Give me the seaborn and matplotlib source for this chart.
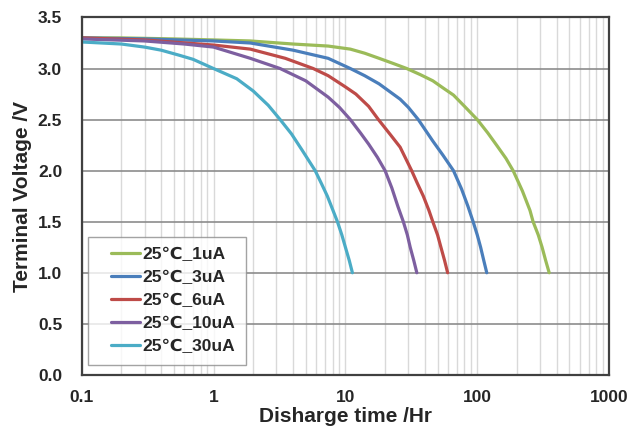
#!/usr/bin/env python3
"""
Discharge curves at 25C for several load currents (log time axis).

Writes:
  out.png
"""

import pandas as pd
import seaborn as sns
import matplotlib.pyplot as plt
from matplotlib.lines import Line2D
from matplotlib.legend_handler import HandlerLine2D
from matplotlib.ticker import FixedLocator, LogLocator, NullFormatter


# values
SERIES = ["25℃_1uA", "25℃_3uA", "25℃_6uA", "25℃_10uA", "25℃_30uA"]
COLORS = ["#9bbb59", "#4a7ebb", "#be4b48", "#7d5fa0", "#4bacc6"]

t_1ua = [0.1, 0.2, 0.5, 1.0, 1.9, 4, 7.4, 10.9, 14, 18, 23, 29.2, 37, 46, 55, 66, 80,
         100, 120, 140, 165, 187, 220, 251, 265, 290, 310, 330, 351]
v_1ua = [3.30, 3.30, 3.29, 3.28, 3.27, 3.24, 3.22, 3.19, 3.15, 3.10, 3.05, 3.00, 2.94,
         2.88, 2.81, 2.74, 2.63, 2.50, 2.37, 2.25, 2.12, 2.00, 1.80, 1.61, 1.50, 1.37,
         1.25, 1.12, 1.00]

t_3ua = [0.1, 0.3, 1.0, 1.9, 4, 7.4, 10.9, 14, 18, 26, 30, 35.7, 46, 55, 66, 76, 85,
         93, 100, 106, 112, 118]
v_3ua = [3.30, 3.29, 3.27, 3.25, 3.18, 3.10, 3.00, 2.93, 2.85, 2.70, 2.62, 2.50, 2.29,
         2.15, 2.00, 1.82, 1.65, 1.50, 1.37, 1.25, 1.12, 1.00]

t_6ua = [0.1, 0.3, 1.0, 1.9, 3.5, 5.7, 7.4, 10, 12, 15, 17.8, 22, 26, 31.8, 35, 39, 43,
         46, 50, 53, 56.5, 59.6]
v_6ua = [3.30, 3.28, 3.23, 3.19, 3.10, 3.00, 2.93, 2.82, 2.75, 2.63, 2.50, 2.35, 2.23,
         2.00, 1.88, 1.75, 1.61, 1.50, 1.37, 1.25, 1.12, 1.00]

t_10ua = [0.1, 0.3, 0.6, 1.0, 1.9, 3.2, 5, 7.4, 9, 10.9, 13, 15, 17.5, 20, 22.5, 25,
          27.5, 29.5, 31, 33, 34.8]
v_10ua = [3.29, 3.27, 3.24, 3.21, 3.10, 3.00, 2.88, 2.72, 2.62, 2.50, 2.37, 2.26, 2.13,
          2.00, 1.83, 1.65, 1.50, 1.37, 1.25, 1.12, 1.00]

t_30ua = [0.1, 0.2, 0.3, 0.4, 0.55, 0.7, 1.0, 1.5, 2.0, 2.6, 3.2, 3.9, 4.7, 5.9, 6.6,
          7.3, 8.0, 8.7, 9.4, 10.0, 10.7, 11.3]
v_30ua = [3.26, 3.24, 3.21, 3.18, 3.13, 3.09, 3.00, 2.90, 2.78, 2.64, 2.50, 2.36, 2.20,
          2.00, 1.87, 1.75, 1.62, 1.50, 1.37, 1.25, 1.12, 1.00]

Y_TICKS = [0.0, 0.5, 1.0, 1.5, 2.0, 2.5, 3.0, 3.5]
X_TICKS = [0.1, 1, 10, 100, 1000]
X_LABELS = ["0.1", "1", "10", "100", "1000"]


def build_frame():
    parts = []
    for name, t, v in zip(
        SERIES,
        [t_1ua, t_3ua, t_6ua, t_10ua, t_30ua],
        [v_1ua, v_3ua, v_6ua, v_10ua, v_30ua],
    ):
        parts.append(pd.DataFrame({"time": t, "voltage": v, "series": name}))
    return pd.concat(parts, ignore_index=True)


def main():
    sns.set_theme(style="white")
    plt.rcParams["font.family"] = ["Liberation Sans", "DejaVu Sans"]
    plt.rcParams["font.weight"] = "bold"

    df = build_frame()

    fig = plt.figure(figsize=(6.28, 4.26), dpi=100)
    ax = fig.add_axes([0.1300, 0.120, 0.8400, 0.839])

    sns.lineplot(
        data=df,
        x="time",
        y="voltage",
        hue="series",
        hue_order=SERIES,
        palette=COLORS,
        estimator=None,
        sort=False,
        linewidth=2.3,
        ax=ax,
    )

    ax.set_xscale("log")
    ax.set_xlim(0.1, 1000)
    ax.set_ylim(0, 3.5)

    ax.xaxis.set_major_locator(FixedLocator(X_TICKS))
    ax.set_xticklabels(X_LABELS)
    ax.xaxis.set_minor_locator(LogLocator(base=10, subs=range(2, 10)))
    ax.xaxis.set_minor_formatter(NullFormatter())
    ax.set_yticks(Y_TICKS)
    ax.set_yticklabels([f"{v:.1f}" for v in Y_TICKS])

    # Excel-style grid: light vertical minor lines, darker horizontal majors
    ax.grid(True, which="minor", axis="x", color="#d9d9d9", linewidth=1.0)
    ax.grid(True, which="major", axis="x", color="#d9d9d9", linewidth=1.0)
    ax.grid(True, which="major", axis="y", color="#8c8c8c", linewidth=1.2)
    ax.set_axisbelow(True)

    for spine in ax.spines.values():
        spine.set_color("#404040")
        spine.set_linewidth(1.6)

    ax.tick_params(axis="both", which="major", labelsize=12.5, direction="in",
                   length=4, color="#404040")
    ax.tick_params(axis="x", which="major", pad=11)
    ax.tick_params(axis="y", which="major", pad=14)
    ax.tick_params(axis="x", which="minor", length=0)
    for lab in ax.get_xticklabels() + ax.get_yticklabels():
        lab.set_fontweight("bold")

    ax.set_xlabel("Disharge time /Hr", fontsize=15, fontweight="bold", labelpad=1.5)
    ax.set_ylabel("Terminal Voltage /V", fontsize=15, fontweight="bold", labelpad=4)

    leg = ax.legend(
        loc="lower left",
        bbox_to_anchor=(0.012, 0.029),
        borderaxespad=0,
        fontsize=12.5,
        frameon=True,
        fancybox=False,
        edgecolor="#8c8c8c",
        handlelength=2.4,
        handletextpad=0.15,
        labelspacing=0.45,
        borderpad=0.6,
        handler_map={Line2D: HandlerLine2D(xpad=0.7)},
    )
    leg.get_frame().set_linewidth(1.0)
    for txt in leg.get_texts():
        txt.set_fontweight("bold")

    fig.savefig("out.png", dpi=100)
    plt.close(fig)


if __name__ == "__main__":
    main()
